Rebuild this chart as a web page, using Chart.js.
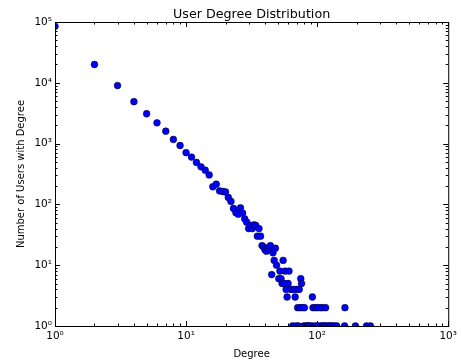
<!DOCTYPE html>
<html>
<head>
<meta charset="utf-8">
<script src="https://cdn.jsdelivr.net/npm/chart.js@4"></script>
<style>
  html, body { margin: 0; padding: 0; background: #fff; }
  #wrap { width: 461px; height: 362px; }
</style>
</head>
<body>
<div id="wrap"><canvas id="degreeChart"></canvas></div>
<script>
// degree -> number of users with that degree
var degrees = [
  1, 2, 3, 4, 5, 6, 7, 8, 9, 10,
  11, 12, 13, 14, 15, 16, 17, 18, 19, 20,
  21, 22, 23, 24, 25, 26, 27, 28, 29, 30,
  31, 32, 33, 34, 35, 36, 37, 38, 39, 40,
  41, 42, 43, 44, 45, 46, 47, 48, 49, 51,
  52, 53, 54, 55, 56, 57, 58, 59, 60, 61,
  63, 65, 66, 68, 69, 70, 71, 72, 73, 74,
  75, 76, 77, 79, 80, 82, 84, 86, 88, 92,
  93, 92, 97, 97, 101, 101, 106, 106, 110, 110,
  113, 116, 116, 120, 124, 127, 131, 136, 141, 162,
  163, 196, 238, 255
];
var userCounts = [
  85000, 20000, 9000, 4900, 3100, 2200, 1600, 1170, 930, 710,
  600, 490, 415, 365, 305, 195, 215, 167, 163, 160,
  130, 112, 86, 73, 69, 88, 72, 58, 51, 40,
  45, 40, 46, 45, 30, 40, 30, 21, 20, 18,
  17, 19, 18, 21, 7, 16, 12, 19, 10, 6,
  8, 6, 5, 12, 5, 8, 4, 3, 5, 8,
  4, 1, 4, 3, 1, 4, 2, 1, 4, 2,
  6, 5, 2, 1, 2, 1, 1, 1, 1, 3,
  2, 1, 2, 1, 2, 1, 2, 1, 2, 1,
  1, 2, 1, 1, 1, 1, 1, 1, 1, 1,
  2, 1, 1, 1
];
var xTickValues = [1, 10, 100, 1000];
var yTickValues = [1, 10, 100, 1000, 10000, 100000];

var chartTitle = "User Degree Distribution";
var xLabel = "Degree";
var yLabel = "Number of Users with Degree";

var sup = {"0":"\u2070","1":"\u00b9","2":"\u00b2","3":"\u00b3","4":"\u2074","5":"\u2075"};
function decadeLabel(v) {
  var e = Math.round(Math.log10(v));
  return "10" + String(e).split("").map(function(c){ return sup[c]; }).join("");
}

var points = degrees.map(function(d, i) { return {x: d, y: userCounts[i]}; });

Chart.defaults.font.family = "'DejaVu Sans', sans-serif";
Chart.defaults.color = "#000";

// frame, inward ticks on all four sides, and the title over the plot area
var framePlugin = {
  id: "frame",
  afterDraw: function(chart) {
    var ctx = chart.ctx, a = chart.chartArea;
    var xs = chart.scales.x, ys = chart.scales.y;
    ctx.save();
    ctx.strokeStyle = "#000";
    ctx.lineWidth = 1;
    ctx.strokeRect(a.left + 0.5, a.top + 0.5, a.right - a.left, a.bottom - a.top);

    ctx.beginPath();
    xTickValues.forEach(function(dec, i) {
      for (var k = 1; k <= 9; k++) {
        var v = dec * k;
        if (v > xTickValues[xTickValues.length - 1]) break;
        var len = k === 1 ? 5 : 2.5;
        var px = Math.round(xs.getPixelForValue(v)) + 0.5;
        ctx.moveTo(px, a.bottom); ctx.lineTo(px, a.bottom - len);
        ctx.moveTo(px, a.top); ctx.lineTo(px, a.top + len);
      }
    });
    yTickValues.forEach(function(dec) {
      for (var k = 1; k <= 9; k++) {
        var v = dec * k;
        if (v > yTickValues[yTickValues.length - 1]) break;
        var len = k === 1 ? 5 : 2.5;
        var py = Math.round(ys.getPixelForValue(v)) + 0.5;
        ctx.moveTo(a.left, py); ctx.lineTo(a.left + len, py);
        ctx.moveTo(a.right, py); ctx.lineTo(a.right - len, py);
      }
    });
    ctx.stroke();

    ctx.fillStyle = "#000";
    ctx.font = "12.7px 'DejaVu Sans', sans-serif";
    ctx.textAlign = "center";
    ctx.textBaseline = "alphabetic";
    ctx.fillText(chartTitle, (a.left + a.right) / 2, 17.5);
    ctx.restore();
  }
};

new Chart("degreeChart", {
  type: "scatter",
  data: {
    datasets: [{
      data: points,
      backgroundColor: "#0000ff",
      borderColor: "#000000",
      borderWidth: 0.5,
      pointRadius: 3.4,
      clip: 0
    }]
  },
  plugins: [framePlugin],
  options: {
    responsive: true,
    maintainAspectRatio: false,
    devicePixelRatio: 1,
    animation: false,
    layout: { padding: { top: 22, right: 11, left: 0, bottom: 0 } },
    plugins: {
      legend: { display: false },
      title: { display: false },
      tooltip: { enabled: false }
    },
    scales: {
      x: {
        type: "logarithmic",
        min: 1,
        max: 1000,
        grid: { display: false, drawTicks: false },
        border: { display: false },
        afterBuildTicks: function(scale) {
          scale.ticks = xTickValues.map(function(v) { return {value: v}; });
        },
        afterFit: function(scale) { scale.height = 36; },
        ticks: {
          font: { size: 10.5 },
          padding: 4,
          maxRotation: 0,
          autoSkip: false,
          callback: function(v) { return decadeLabel(v); }
        },
        title: {
          display: true,
          text: xLabel,
          font: { size: 10 },
          padding: { top: 0, bottom: 1.5 }
        }
      },
      y: {
        type: "logarithmic",
        min: 1,
        max: 100000,
        grid: { display: false, drawTicks: false },
        border: { display: false },
        afterBuildTicks: function(scale) {
          scale.ticks = yTickValues.map(function(v) { return {value: v}; });
        },
        afterFit: function(scale) { scale.width = 55; },
        ticks: {
          font: { size: 10.5 },
          padding: 3,
          autoSkip: false,
          callback: function(v) { return decadeLabel(v); }
        },
        title: {
          display: true,
          text: yLabel,
          font: { size: 10 },
          padding: { top: 15, bottom: 0 }
        }
      }
    }
  }
});
</script>
</body>
</html>
